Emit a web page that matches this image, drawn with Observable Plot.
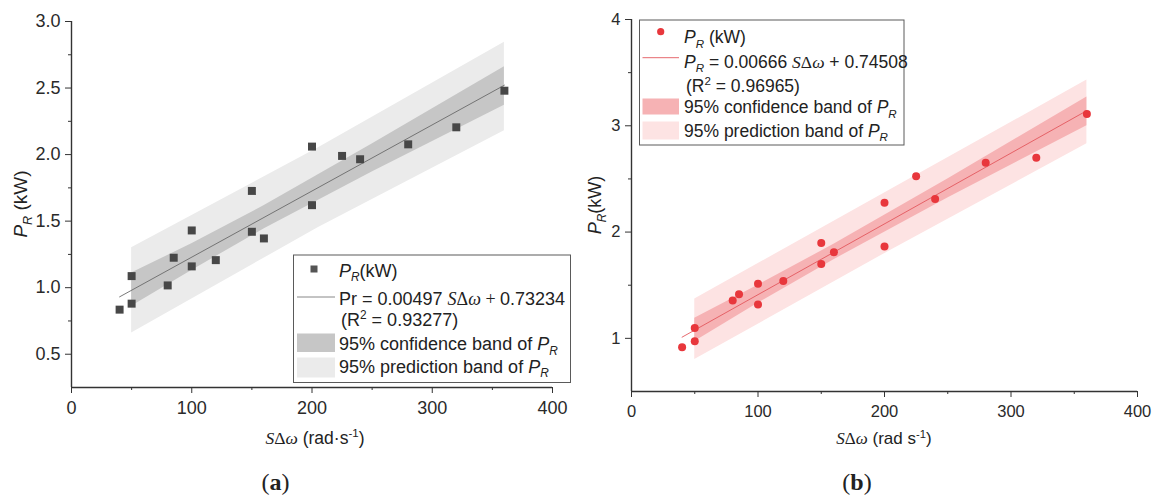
<!DOCTYPE html>
<html>
<head>
<meta charset="utf-8">
<script src="https://cdn.jsdelivr.net/npm/d3@7"></script>
<script src="https://cdn.jsdelivr.net/npm/@observablehq/plot@0.6"></script>
<style>
  html, body { margin: 0; padding: 0; background: #fff; }
  #wrap { position: relative; width: 1156px; height: 497px; overflow: hidden; background: #fff; }
  #wrap > .panel { position: absolute; top: 0; }
  #overlay { position: absolute; left: 0; top: 0; pointer-events: none; }
</style>
</head>
<body>
<div id="wrap"></div>
<script>
// ---------- data ----------
// Panel (a)
const xA = [40, 50, 50, 80, 85, 100, 100, 120, 150, 150, 160, 200, 200, 225, 240, 280, 320, 360];
const yA = [0.835, 1.087, 0.88, 1.017, 1.225, 1.16, 1.43, 1.207, 1.727, 1.42, 1.37, 2.06, 1.62, 1.99, 1.965, 2.077, 2.205, 2.48];
const fitA = { slope: 0.00497, intercept: 0.73234, r2: "0.93277" };
const confXA = [50, 100, 160, 250, 360];
const confLoA = [0.86, 1.13, 1.44, 1.87, 2.37];
const confHiA = [1.11, 1.33, 1.615, 2.08, 2.66];
const predXA = [50, 205, 360];
const predLoA = [0.66, 1.45, 2.18];
const predHiA = [1.30, 2.05, 2.845];
const yTicksA = [0.5, 1.0, 1.5, 2.0, 2.5, 3.0];
const yMinorA = [0.75, 1.25, 1.75, 2.25, 2.75];

// Panel (b)
const xB = [40, 50, 50, 80, 85, 100, 100, 120, 150, 150, 160, 200, 200, 225, 240, 280, 320, 360];
const yB = [0.916, 1.097, 0.972, 1.356, 1.415, 1.513, 1.318, 1.54, 1.70, 1.897, 1.81, 1.865, 2.275, 2.525, 2.31, 2.652, 2.70, 3.11];
const fitB = { slope: 0.00666, intercept: 0.74508, r2: "0.96965" };
const confXB = [50, 100, 160, 250, 360];
const confLoB = [0.97, 1.33, 1.74, 2.32, 3.0];
const confHiB = [1.19, 1.50, 1.885, 2.50, 3.27];
const predXB = [50, 205, 360];
const predLoB = [0.80, 1.83, 2.83];
const predHiB = [1.37, 2.40, 3.43];
const yTicksB = [1, 2, 3, 4];
const yMinorB = [1.5, 2.5, 3.5];

const xTicks = [0, 100, 200, 300, 400];
const xMinor = [50, 150, 250, 350];

// ---------- helpers ----------
const zipPts = (xs, ys) => xs.map((x, i) => ({ x, y: ys[i] }));
const zipBand = (xs, lo, hi) => xs.map((x, i) => ({ x, lo: lo[i], hi: hi[i] }));
const fitLine = (xs, f) => {
  const [a, b] = d3.extent(xs);
  return [a, b].map(x => ({ x, y: f.slope * x + f.intercept }));
};

function panel(cfg) {
  return Plot.plot({
    width: cfg.width, height: 460,
    marginLeft: cfg.ml, marginRight: cfg.mr, marginTop: cfg.mt, marginBottom: cfg.mb,
    x: { domain: [0, 400] },
    y: { domain: cfg.yDomain },
    style: { fontFamily: "'Liberation Sans', Arial, sans-serif", fontSize: cfg.fs + "px", color: "#2a2a2a", background: "transparent" },
    marks: [
      Plot.areaY(zipBand(cfg.predX, cfg.predLo, cfg.predHi), { x: "x", y1: "lo", y2: "hi", fill: cfg.predFill }),
      Plot.areaY(zipBand(cfg.confX, cfg.confLo, cfg.confHi), { x: "x", y1: "lo", y2: "hi", fill: cfg.confFill }),
      Plot.line(fitLine(cfg.xs, cfg.fit), { x: "x", y: "y", stroke: cfg.lineStroke, strokeWidth: 0.9 }),
      Plot.dot(zipPts(cfg.xs, cfg.ys), { x: "x", y: "y", symbol: cfg.symbol, r: cfg.r, fill: cfg.dotFill, stroke: "none" }),
      Plot.ruleX([0], { stroke: "#333", strokeWidth: 1.4 }),
      Plot.ruleY([cfg.yDomain[0]], { stroke: "#333", strokeWidth: 1.4 }),
      Plot.axisX({ ticks: xTicks, tickSize: 6, tickPadding: 8, fontSize: cfg.fs, label: null, stroke: "#333" }),
      Plot.axisX({ ticks: xMinor, tickSize: 3, tickFormat: () => "", label: null, stroke: "#333" }),
      Plot.axisY({ ticks: cfg.yTicks, tickFormat: cfg.yFormat, tickSize: 6, tickPadding: 5, fontSize: cfg.fs, label: null, stroke: "#333" }),
      Plot.axisY({ ticks: cfg.yMinor, tickSize: 3, tickFormat: () => "", label: null, stroke: "#333" })
    ]
  });
}

const wrap = document.getElementById("wrap");

const plotA = panel({
  width: 580, ml: 71, mr: 28, mt: 21, mb: 73, fs: 18,
  yDomain: [0.25, 3], yTicks: yTicksA, yMinor: yMinorA, yFormat: d3.format(".1f"),
  xs: xA, ys: yA, fit: fitA,
  confX: confXA, confLo: confLoA, confHi: confHiA,
  predX: predXA, predLo: predLoA, predHi: predHiA,
  predFill: "#ebebeb", confFill: "#c6c6c6", lineStroke: "#6a6a6a",
  symbol: "square", r: 4.5, dotFill: "#474747"
});
plotA.classList.add("panel");
plotA.style.left = "0px";
wrap.appendChild(plotA);

const plotB = panel({
  width: 576, ml: 51, mr: 19, mt: 19, mb: 69, fs: 16.5,
  yDomain: [0.5, 4], yTicks: yTicksB, yMinor: yMinorB, yFormat: d3.format("d"),
  xs: xB, ys: yB, fit: fitB,
  confX: confXB, confLo: confLoB, confHi: confHiB,
  predX: predXB, predLo: predLoB, predHi: predHiB,
  predFill: "#fde3e3", confFill: "#f6b2b4", lineStroke: "#e3585d",
  symbol: "circle", r: 4, dotFill: "#e8373c"
});
plotB.classList.add("panel");
plotB.style.left = "580px";
wrap.appendChild(plotB);

// ---------- overlay: legends, axis titles, captions ----------
const svg = d3.select(wrap).append("svg")
  .attr("id", "overlay").attr("width", 1156).attr("height", 497)
  .attr("font-family", "'Liberation Sans', Arial, sans-serif")
  .attr("fill", "#222");

const SANS = "'Liberation Sans', Arial, sans-serif";
const SERIF = "'Liberation Serif', 'Times New Roman', serif";

// parts: [text, opts] ; opts: {i: italic, serif, sub, sup, b}
function rich(parent, x, y, fs, parts, extra = {}) {
  const t = parent.append("text").attr("x", x).attr("y", y).attr("font-size", fs);
  for (const [k, v] of Object.entries(extra)) t.attr(k, v);
  let shift = 0;
  for (const [txt, o = {}] of parts) {
    const s = t.append("tspan").text(txt);
    let target = 0, size = fs;
    if (o.sub) { target = 0.26 * fs; size = 0.66 * fs; }
    if (o.sup) { target = -0.38 * fs; size = 0.66 * fs; }
    s.attr("dy", target - shift).attr("font-size", size);
    shift = target;
    if (o.i) s.attr("font-style", "italic");
    if (o.serif) s.attr("font-family", SERIF);
    if (o.b) s.attr("font-weight", "bold");
  }
  return t;
}

function legend(cfg) {
  const g = svg.append("g");
  g.append("rect").attr("x", cfg.box[0]).attr("y", cfg.box[1]).attr("width", cfg.box[2]).attr("height", cfg.box[3])
    .attr("fill", "#fff").attr("stroke", "#5a5a5a").attr("stroke-width", 1);
  if (cfg.symbol === "square") {
    g.append("rect").attr("x", cfg.mark[0] - 3.5).attr("y", cfg.mark[1] - 3.5).attr("width", 7).attr("height", 7).attr("fill", cfg.dotFill);
  } else {
    g.append("circle").attr("cx", cfg.mark[0]).attr("cy", cfg.mark[1]).attr("r", 3.6).attr("fill", cfg.dotFill);
  }
  g.append("line").attr("x1", cfg.sw[0]).attr("x2", cfg.sw[1]).attr("y1", cfg.lineY).attr("y2", cfg.lineY)
    .attr("stroke", cfg.lineStroke).attr("stroke-width", 0.9);
  g.append("rect").attr("x", cfg.sw[0]).attr("y", cfg.conf[0]).attr("width", cfg.sw[1] - cfg.sw[0]).attr("height", cfg.conf[1] - cfg.conf[0]).attr("fill", cfg.confFill);
  g.append("rect").attr("x", cfg.sw[0]).attr("y", cfg.pred[0]).attr("width", cfg.sw[1] - cfg.sw[0]).attr("height", cfg.pred[1] - cfg.pred[0]).attr("fill", cfg.predFill);
  const fs = cfg.fs;
  rich(g, cfg.tx, cfg.base[0], fs, cfg.first);
  rich(g, cfg.tx, cfg.base[1], fs, cfg.eq);
  rich(g, cfg.tx + 2, cfg.base[2], fs, [["(R"], ["2", { sup: true }], [" = " + cfg.r2 + ")"]]);
  rich(g, cfg.tx, cfg.base[3], fs, [["95% confidence band of "], ["P", { i: true }], ["R", { i: true, sub: true }]]);
  rich(g, cfg.tx, cfg.base[4], fs, [["95% prediction band of "], ["P", { i: true }], ["R", { i: true, sub: true }]]);
}

legend({
  box: [293.5, 255, 277, 127.5], mark: [314, 269], symbol: "square", dotFill: "#555",
  sw: [297, 335], lineY: 297, lineStroke: "#7a7a7a", conf: [333.5, 352], pred: [357.5, 377.5],
  confFill: "#c6c6c6", predFill: "#ebebeb", fs: 18, tx: 339,
  base: [276.5, 305, 326, 350, 372.5], r2: fitA.r2,
  first: [["P", { i: true }], ["R", { i: true, sub: true }], ["(kW)"]],
  eq: [["Pr = " + fitA.slope + " "], ["S", { i: true, serif: true }], ["Δ", { serif: true }], ["ω", { i: true, serif: true }], [" + ", { serif: true }], [String(fitA.intercept)]]
});

legend({
  box: [639.5, 20, 264.5, 125], mark: [660.7, 31.7], symbol: "circle", dotFill: "#e8373c",
  sw: [642.5, 679], lineY: 57.7, lineStroke: "#e3585d", conf: [98.5, 114.5], pred: [121.5, 139.5],
  confFill: "#f6b2b4", predFill: "#fde3e3", fs: 17.5, tx: 684,
  base: [43, 67.5, 92, 113.3, 136.5], r2: fitB.r2,
  first: [["P", { i: true }], ["R", { i: true, sub: true }], [" (kW)"]],
  eq: [["P", { i: true }], ["R", { i: true, sub: true }], [" = " + fitB.slope + " "], ["S", { i: true, serif: true }], ["Δ", { serif: true }], ["ω", { i: true, serif: true }], [" + " + fitB.intercept]]
});

// axis titles
rich(svg, 0, 0, 19, [["P", { i: true }], ["R", { i: true, sub: true }], [" (kW)"]],
  { transform: "translate(27,204) rotate(-90)", "text-anchor": "middle" });
rich(svg, 0, 0, 18, [["P", { i: true }], ["R", { i: true, sub: true }], ["(kW)"]],
  { transform: "translate(601,205) rotate(-90)", "text-anchor": "middle" });

rich(svg, 315, 444, 17.5, [["S", { i: true, serif: true }], ["Δ", { serif: true }], ["ω", { i: true, serif: true }], [" (rad·s"], ["-1", { sup: true }], [")"]],
  { "text-anchor": "middle" });
rich(svg, 884, 444, 17, [["S", { i: true, serif: true }], ["Δ", { serif: true }], ["ω", { i: true, serif: true }], [" (rad s"], ["-1", { sup: true }], [")"]],
  { "text-anchor": "middle" });

// captions
rich(svg, 275.5, 490, 24, [["(", { serif: true }], ["a", { serif: true, b: true }], [")", { serif: true }]], { "text-anchor": "middle", "font-family": SERIF });
rich(svg, 857, 490, 24, [["(", { serif: true }], ["b", { serif: true, b: true }], [")", { serif: true }]], { "text-anchor": "middle", "font-family": SERIF });
</script>
</body>
</html>
